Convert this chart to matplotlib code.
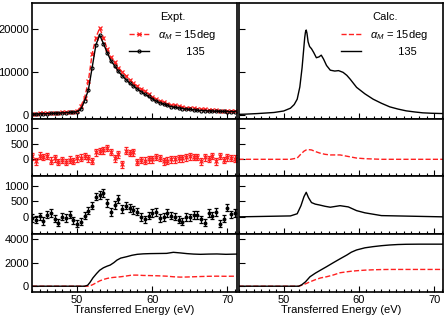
import numpy as np
import matplotlib
matplotlib.use("Agg")
import matplotlib.pyplot as plt
from matplotlib.ticker import MultipleLocator

plt.rcParams['font.family'] = ['Liberation Sans', 'DejaVu Sans']
plt.rcParams['mathtext.fontset'] = 'custom'
plt.rcParams['mathtext.rm'] = 'Liberation Sans'
plt.rcParams['mathtext.it'] = 'Liberation Sans:italic'

# ---------------- data ----------------
expt_x = np.arange(44.0, 71.01, 0.5)
expt_15 = [250, 280, 320, 350, 380, 420, 460, 500, 550, 600, 660, 730, 850, 2000, 4000,
           7900, 14200, 18000, 20200, 18000, 15300, 13400, 12200, 11000, 10000, 9100,
           8200, 7400, 6700, 6100, 5500, 4900, 4200, 3700, 3300, 2900, 2600, 2400, 2200,
           2000, 1850, 1700, 1600, 1500, 1400, 1300, 1250, 1200, 1100, 1050, 1000, 970,
           950, 930, 910]
expt_135 = [150, 180, 220, 250, 280, 320, 360, 400, 450, 500, 560, 620, 750, 1300, 3300,
            5800, 11000, 16300, 18600, 16600, 14500, 12600, 11400, 10100, 9100, 8200,
            7400, 6700, 6000, 5400, 4800, 4300, 3700, 3200, 2800, 2500, 2200, 1900, 1750,
            1600, 1450, 1350, 1250, 1150, 1050, 1000, 950, 900, 870, 840, 810, 790, 780,
            770, 760]

diff_15 = [90, -70, 120, 70, 110, -40, 30, -90, -20, -90, -10, -60, 30, 50, 110, 30,
           -60, 220, 260, 290, 360, 240, 30, 160, -160, 280, 200, 220, -90, -20, -40, 0,
           0, 70, 40, -70, -40, 0, 0, 30, 30, 60, 90, 80, 70, -70, 60, 10, 100, -70, 110,
           -20, 60, 40, 20]
diff_135 = [-40, -90, 20, -130, 70, 130, -60, -190, 10, -40, 70, -110, -220, -150, 40,
            200, 360, 650, 710, 770, 450, 150, 380, 570, 260, 360, 290, 220, 170, -10,
            -80, 40, 120, 150, -40, -10, 120, 40, 10, -90, -150, -10, -20, 60, 60, -80,
            -190, 120, 40, 150, -220, -60, 300, 80, 120]
err_15 = 105
err_135 = 120

calc_x = [44.0, 44.75, 46.5, 48.7, 50.0, 50.9, 51.4, 51.8, 52.15, 52.45, 52.65, 52.8,
          52.9, 53.0, 53.1, 53.25, 53.45, 53.7, 54.0, 54.35, 54.7, 55.0, 55.3, 55.7, 56.2,
          56.8, 57.3, 57.9, 58.4, 58.85, 59.7, 60.8, 61.9, 63.0, 64.1, 65.2, 66.3, 67.4,
          68.5, 69.7, 71.2]
calc_135 = [120, 150, 300, 550, 900, 1550, 2400, 3650, 6500, 11000, 15000, 18000, 19300,
            19750, 19000, 17000, 15900, 15400, 14500, 13300, 13500, 13900, 13000, 11500,
            10400, 10200, 10300, 9900, 9200, 8300, 6400, 4900, 3650, 2700, 1870, 1350, 930,
            680, 470, 370, 300]

cdiff_x = [44.0, 50.9, 51.8, 52.3, 52.7, 53.0, 53.3, 53.7, 54.2, 54.8, 55.5, 56.2, 57.5,
           58.6, 59.7, 60.8, 61.9, 63.0, 71.2]
cdiff_15 = [0, 0, 40, 170, 260, 300, 310, 300, 250, 200, 160, 140, 140, 90, 40, 20, 10, 0, 0]
cdiff_135 = [0, 30, 100, 360, 650, 790, 620, 460, 410, 380, 340, 310, 360, 320, 200, 130,
             85, 40, 0]

int_x = [44.0, 51.0, 51.4, 51.7, 52.1, 52.6, 53.0, 53.5, 54.0, 54.4, 54.9, 55.3, 55.8,
         56.6, 57.3, 58.0, 58.8, 59.7, 60.8, 61.9, 62.8, 63.7, 64.6, 65.5, 66.4, 67.5,
         68.6, 69.8, 71.2]
int_e135 = [0, 0, 80, 310, 700, 1080, 1350, 1560, 1700, 1790, 2000, 2210, 2380, 2500,
            2620, 2700, 2740, 2760, 2770, 2780, 2870, 2820, 2760, 2720, 2700, 2720, 2730,
            2700, 2720]
int_e15 = [0, 0, 0, 30, 140, 310, 450, 570, 660, 710, 750, 770, 800, 870, 940, 940, 910,
           900, 880, 850, 800, 770, 780, 800, 820, 840, 850, 840, 850]

intc_x = [44.0, 52.0, 52.4, 52.9, 53.5, 54.2, 54.9, 55.7, 56.6, 57.5, 58.4, 59.0, 59.7,
          60.8, 61.9, 63.0, 64.1, 65.2, 66.3, 68.0, 71.2]
intc_135 = [0, 0, 120, 370, 800, 1100, 1360, 1650, 1990, 2320, 2640, 2880, 3070, 3250,
            3350, 3430, 3490, 3530, 3550, 3560, 3560]
intc_15 = [0, 0, 80, 200, 370, 550, 700, 800, 950, 1140, 1220, 1270, 1310, 1360, 1390,
           1410, 1420, 1420, 1420, 1420, 1420]

RED = '#ff2020'
BLK = 'black'
xlab = 'Transferred Energy (eV)'

# ---------------- figure ----------------
fig, axes = plt.subplots(4, 2, figsize=(4.48, 3.2), dpi=100, sharex=True,
                         gridspec_kw=dict(height_ratios=[2, 1, 1, 1], hspace=0.0,
                                          wspace=0.01))
fig.subplots_adjust(left=0.0714, right=0.989, top=0.99, bottom=0.0875)

for r in range(4):
    for c in range(2):
        ax = axes[r, c]
        ax.set_xlim(44, 71.2)
        ax.xaxis.set_major_locator(MultipleLocator(10))
        ax.xaxis.set_minor_locator(MultipleLocator(1))
        ax.tick_params(which='both', direction='in', top=False, right=False,
                       labelsize=8, pad=2, width=0.8)
        ax.tick_params(which='major', length=4)
        ax.tick_params(which='minor', length=2.2)
        for s in ax.spines.values():
            s.set_linewidth(1.2)
        if c == 1:
            ax.tick_params(labelleft=False)

# row 1
ax = axes[0, 0]
ax.plot(expt_x, expt_15, color=RED, ls='--', lw=1.0, marker='x', ms=3, mew=0.9,
        label=r'$\alpha_M$ = 15deg')
ax.plot(expt_x, expt_135, color=BLK, ls='-', lw=1.0, marker='o', ms=2.2,
        mfc='none', mew=0.8, label='         135')
ax.set_ylim(-900, 26000)
ax.set_yticks([0, 10000, 20000])
ax.legend(loc='upper right', bbox_to_anchor=(0.94, 0.99), frameon=False,
          fontsize=8, title='Expt.', title_fontsize=8, handlelength=1.8,
          labelspacing=0.5, borderaxespad=0.3)

ax = axes[0, 1]
ax.plot(calc_x, calc_135, color=BLK, lw=1.0)
ax.plot([], [], color=RED, ls='--', lw=1.0, label=r'$\alpha_M$ = 15deg')
ax.plot([], [], color=BLK, ls='-', lw=1.0, label='         135')
ax.set_ylim(-900, 26000)
ax.set_yticks([0, 10000, 20000])
ax.legend(loc='upper right', bbox_to_anchor=(0.965, 0.99), frameon=False,
          fontsize=8, title='Calc.', title_fontsize=8, handlelength=1.8,
          labelspacing=0.5, borderaxespad=0.3)

# row 2
ax = axes[1, 0]
ax.errorbar(expt_x, diff_15, yerr=err_15, fmt='x', color=RED, ms=2.5, mew=0.9,
            elinewidth=0.9, capsize=1.6, capthick=0.9)
ax = axes[1, 1]
ax.plot(cdiff_x, cdiff_15, color=RED, ls='--', lw=1.0)
for ax in axes[1]:
    ax.set_ylim(-550, 1300)
    ax.set_yticks([0, 500, 1000])

# row 3
ax = axes[2, 0]
ax.errorbar(expt_x, diff_135, yerr=err_135, fmt='o', color=BLK, ms=1.8,
            elinewidth=0.9, capsize=1.6, capthick=0.9)
ax = axes[2, 1]
ax.plot(cdiff_x, cdiff_135, color=BLK, lw=1.0)
for ax in axes[2]:
    ax.set_ylim(-560, 1300)
    ax.set_yticks([0, 500, 1000])

# row 4
ax = axes[3, 0]
ax.plot(int_x, int_e15, color=RED, ls='--', lw=1.0)
ax.plot(int_x, int_e135, color=BLK, lw=1.0)
ax = axes[3, 1]
ax.plot(intc_x, intc_15, color=RED, ls='--', lw=1.0)
ax.plot(intc_x, intc_135, color=BLK, lw=1.0)
for ax in axes[3]:
    ax.set_ylim(-490, 4400)
    ax.set_yticks([0, 2000, 4000])
    ax.set_xlabel(xlab, fontsize=8, labelpad=0)
    ax.set_xticks([50, 60, 70])

fig.savefig('out.png', dpi=100)
